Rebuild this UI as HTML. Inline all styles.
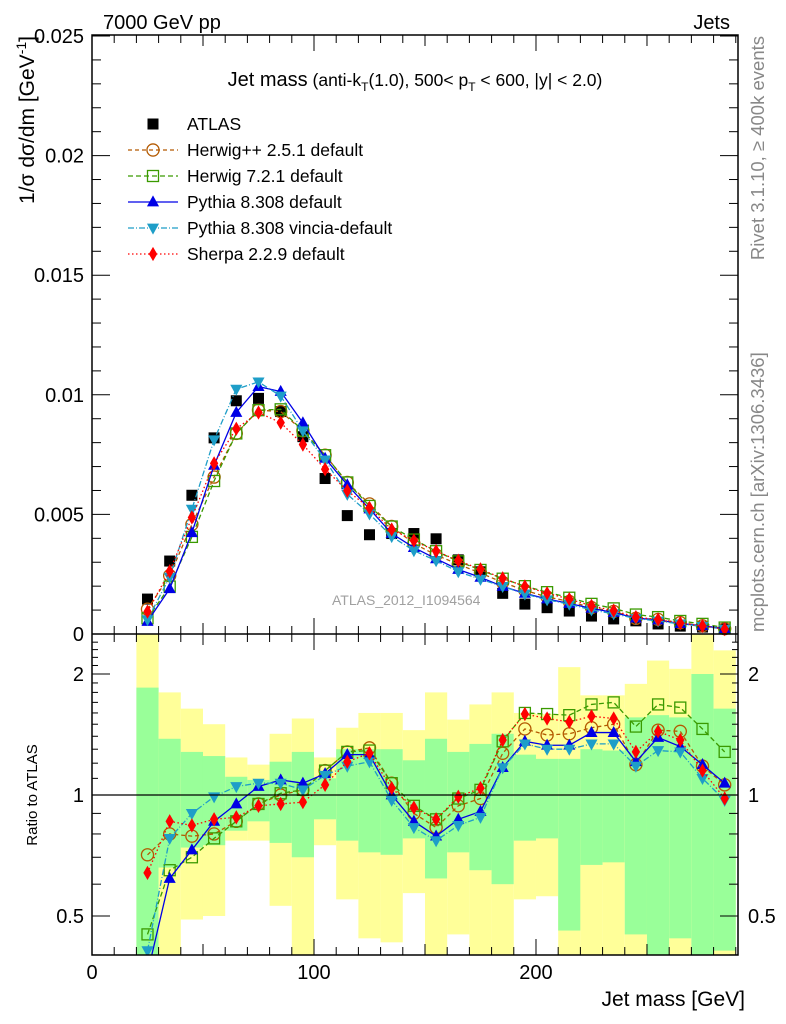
<!DOCTYPE html>
<html><head><meta charset="utf-8"><style>
html,body{margin:0;padding:0;background:#fff;}
svg{display:block;font-family:"Liberation Sans",sans-serif;}
</style></head><body>
<svg id="chart" width="786" height="1024" viewBox="0 0 786 1024" xmlns="http://www.w3.org/2000/svg">
<g id="ratioBands"></g>
<g id="mainMarks"></g>
<g id="ratioMarks"></g>
<g id="axes"></g>
<text x="103" y="29" font-size="20">7000 GeV pp</text>
<text x="730" y="29" font-size="20" text-anchor="end">Jets</text>
<text x="415" y="86" font-size="20" text-anchor="middle">Jet mass<tspan font-size="17.5"> (anti-k</tspan><tspan font-size="12" dy="5">T</tspan><tspan font-size="17.5" dy="-5">(1.0), 500&lt; p</tspan><tspan font-size="12" dy="5">T</tspan><tspan font-size="17.5" dy="-5"> &lt; 600, |y| &lt; 2.0)</tspan></text>
<text x="332" y="605" font-size="14" fill="#a0a0a0">ATLAS_2012_I1094564</text>
<text transform="translate(34,36) rotate(-90)" font-size="21" text-anchor="end">1/σ dσ/dm [GeV<tspan font-size="14" dy="-8">-1</tspan><tspan dy="8">]</tspan></text>
<text transform="translate(37,795) rotate(-90)" font-size="15" text-anchor="middle">Ratio to ATLAS</text>
<text x="745" y="1006" font-size="21" text-anchor="end">Jet mass [GeV]</text>
<text transform="translate(764,36) rotate(-90)" font-size="18.5" fill="#888" text-anchor="end">Rivet 3.1.10, ≥ 400k events</text>
<text transform="translate(764,632) rotate(-90)" font-size="18.5" fill="#888">mcplots.cern.ch [arXiv:1306.3436]</text>
<g id="legend"></g>
</svg>
<script>
const binCenters=[25,35,45,55,65,75,85,95,105,115,125,135,145,155,165,175,185,195,205,215,225,235,245,255,265,275,285];
const atlasValues=[1.46,3.05,5.8,8.2,9.75,9.85,9.3,8.25,6.5,4.95,4.15,4.2,4.2,3.98,3.1,2.6,1.7,1.25,1.1,0.96,0.75,0.63,0.55,0.42,0.33,0.29,0.21];
const herwigppRatio=[0.71,0.80,0.79,0.80,0.86,0.95,1.0,1.03,1.15,1.28,1.31,1.07,0.90,0.83,0.94,0.98,1.27,1.46,1.41,1.42,1.47,1.50,1.19,1.45,1.44,1.18,1.06];
const herwig7Ratio=[0.45,0.65,0.70,0.78,0.86,0.95,1.01,1.03,1.15,1.28,1.29,1.07,0.94,0.87,0.98,1.03,1.36,1.60,1.59,1.58,1.68,1.70,1.48,1.68,1.65,1.46,1.28];
const pythiaRatio=[0.36,0.62,0.73,0.86,0.95,1.05,1.09,1.07,1.13,1.26,1.26,1.0,0.86,0.79,0.87,0.91,1.17,1.36,1.33,1.33,1.43,1.43,1.21,1.39,1.32,1.19,1.07];
const vinciaRatio=[0.41,0.78,0.90,0.99,1.05,1.07,1.07,1.03,1.12,1.18,1.21,0.97,0.83,0.77,0.84,0.88,1.17,1.34,1.30,1.30,1.34,1.34,1.18,1.29,1.28,1.10,0.97];
const sherpaRatio=[0.64,0.86,0.84,0.87,0.88,0.94,0.95,0.96,1.06,1.21,1.27,1.04,0.93,0.87,0.99,1.04,1.37,1.59,1.55,1.52,1.57,1.55,1.28,1.44,1.37,1.15,0.98];
const yellowTop=[2.52,1.80,1.64,1.50,1.24,1.19,1.42,1.55,1.24,1.47,1.60,1.60,1.45,1.80,1.54,1.68,1.80,1.60,1.59,2.08,1.77,1.77,1.89,2.16,2.06,2.52,2.29];
const greenTop=[1.85,1.38,1.28,1.25,1.11,1.09,1.21,1.28,1.10,1.30,1.30,1.30,1.22,1.38,1.28,1.34,1.42,1.26,1.23,1.23,1.30,1.29,1.56,1.58,1.56,2.0,1.64];
const greenBottom=[0.39,0.66,0.74,0.75,0.815,0.86,0.76,0.70,0.87,0.77,0.72,0.71,0.78,0.62,0.72,0.65,0.60,0.77,0.78,0.46,0.67,0.68,0.45,0.39,0.44,0.39,0.41];
const yellowBottom=[0.39,0.39,0.49,0.50,0.77,0.77,0.53,0.40,0.75,0.55,0.44,0.43,0.57,0.39,0.45,0.39,0.39,0.55,0.56,0.39,0.39,0.39,0.39,0.39,0.39,0.39,0.39];
const seriesNames=["Herwig++ 2.5.1 default","Herwig 7.2.1 default","Pythia 8.308 default","Pythia 8.308 vincia-default","Sherpa 2.2.9 default"];
const mainTicks=[0,0.005,0.01,0.015,0.02,0.025];
const mainTickLabels=["0","0.005","0.01","0.015","0.02","0.025"];
const xTicks=[0,100,200];
const ratioTicks=[0.5,1,2];

const NS="http://www.w3.org/2000/svg";
const X0=92,X1=738,YT=35,YM=634,YB=955;
const xs=v=>X0+(v-0)*(X1-X0)/291;
const ym=v=>YM-v*1000*23.92;
const yr=r=>795-121*Math.log2(r);
const RMAX=2.515,RMIN=0.40;
const clampR=r=>Math.max(RMIN,Math.min(RMAX,r));
function mk(parent,tag,attrs){const e=document.createElementNS(NS,tag);for(const k in attrs)e.setAttribute(k,attrs[k]);parent.appendChild(e);return e;}

const bands=document.getElementById('ratioBands');
binCenters.forEach((c,i)=>{
  const x=xs(c-5),w=xs(c+5)-xs(c-5);
  const y1=yr(clampR(yellowTop[i])),y2=yr(clampR(yellowBottom[i]));
  const yb=mk(bands,'rect',{x:x,y:y1,width:w,height:y2-y1,fill:'#ffff99'});
  
  
  const g1=yr(clampR(greenTop[i])),g2=yr(clampR(greenBottom[i]));
  const gb=mk(bands,'rect',{x:x,y:g1,width:w,height:g2-g1,fill:'#99ff99'});
  
  
});

const styles=[
 {ratio:herwigppRatio,color:'#b35900',dash:'4,3',marker:'circle'},
 {ratio:herwig7Ratio,color:'#3a9a00',dash:'5,3',marker:'square'},
 {ratio:pythiaRatio,color:'#0000e6',dash:'',marker:'up'},
 {ratio:vinciaRatio,color:'#1e9ec8',dash:'6,2,1,2',marker:'down'},
 {ratio:sherpaRatio,color:'#ff0000',dash:'1.5,2.5',marker:'diamond'}
];
function marker(g,type,x,y,color,s){
  let e;
  if(type==='circle')e=mk(g,'circle',{cx:x,cy:y,r:s*0.55,fill:'none',stroke:color,'stroke-width':1.3});
  else if(type==='square')e=mk(g,'rect',{x:x-s*0.5,y:y-s*0.5,width:s,height:s,fill:'none',stroke:color,'stroke-width':1.3});
  else if(type==='fsquare')e=mk(g,'rect',{x:x-s*0.5,y:y-s*0.5,width:s,height:s,fill:color});
  else if(type==='up')e=mk(g,'polygon',{points:`${x},${y-s*0.6} ${x-s*0.55},${y+s*0.4} ${x+s*0.55},${y+s*0.4}`,fill:color});
  else if(type==='down')e=mk(g,'polygon',{points:`${x},${y+s*0.6} ${x-s*0.55},${y-s*0.4} ${x+s*0.55},${y-s*0.4}`,fill:color});
  else e=mk(g,'polygon',{points:`${x},${y-s*0.65} ${x-s*0.38},${y} ${x},${y+s*0.65} ${x+s*0.38},${y}`,fill:color});
  return e;
}
const mainG=document.getElementById('mainMarks');
const ratioG=document.getElementById('ratioMarks');
const defs=mk(document.getElementById('chart'),'defs',{});
const cp=mk(defs,'clipPath',{id:'rclip'});mk(cp,'rect',{x:X0,y:YM,width:X1-X0,height:YB-YM});
ratioG.setAttribute('clip-path','url(#rclip)');

binCenters.forEach((c,i)=>{
  const m=marker(mainG,'fsquare',xs(c),ym(atlasValues[i]/1000),'#000',11);
  
  
});
styles.forEach((s,k)=>{
  const pm=binCenters.map((c,i)=>xs(c)+','+ym(atlasValues[i]*s.ratio[i]/1000)).join(' ');
  const l=mk(mainG,'polyline',{points:pm,fill:'none',stroke:s.color,'stroke-width':1.3,'stroke-dasharray':s.dash});
  
  
  const pr=binCenters.map((c,i)=>xs(c)+','+yr(s.ratio[i])).join(' ');
  const lr=mk(ratioG,'polyline',{points:pr,fill:'none',stroke:s.color,'stroke-width':1.3,'stroke-dasharray':s.dash});
  
  
  binCenters.forEach((c,i)=>{
    const a=marker(mainG,s.marker,xs(c),ym(atlasValues[i]*s.ratio[i]/1000),s.color,11);
    
    
    const b=marker(ratioG,s.marker,xs(c),yr(s.ratio[i]),s.color,11);
    
    
  });
});

const ax=document.getElementById('axes');
mk(ax,'rect',{x:X0,y:YT,width:X1-X0,height:YB-YT,fill:'none',stroke:'#000','stroke-width':1.5});
mk(ax,'line',{x1:X0,y1:YM,x2:X1,y2:YM,stroke:'#000','stroke-width':1.5});
mk(ax,'line',{x1:X0,y1:yr(1),x2:X1,y2:yr(1),stroke:'#000','stroke-width':1.2});
for(let v=0;v<=291;v+=10){
  const big=v%100===0,len=big?16:(v%50===0?11:8);
  const x=xs(v);
  mk(ax,'line',{x1:x,y1:YB,x2:x,y2:YB-len,stroke:'#000'});
  mk(ax,'line',{x1:x,y1:YM,x2:x,y2:YM-len,stroke:'#000'});
  mk(ax,'line',{x1:x,y1:YM,x2:x,y2:YM+len,stroke:'#000'});
  mk(ax,'line',{x1:x,y1:YT,x2:x,y2:YT+len,stroke:'#000'});
}
xTicks.forEach(v=>{
  const t=mk(ax,'text',{x:xs(v),y:979,'font-size':20,'text-anchor':'middle'});t.textContent=String(v);
  
  
});
for(let v=0;v<=0.0251;v+=0.001){
  const big=Math.round(v*1000)%5===0,len=big?18:9,y=ym(v);
  mk(ax,'line',{x1:X0,y1:y,x2:X0+len,y2:y,stroke:'#000'});
  mk(ax,'line',{x1:X1,y1:y,x2:X1-len,y2:y,stroke:'#000'});
}
mainTicks.forEach((v,i)=>{
  const t=mk(ax,'text',{x:84,y:ym(v)+7,'font-size':20,'text-anchor':'end'});t.textContent=mainTickLabels[i];
  
  
});
[0.4,0.5,0.6,0.7,0.8,0.9,1,2].forEach(r=>{
  const big=(r===0.5||r===1||r===2),len=big?18:9,y=yr(r);
  mk(ax,'line',{x1:X0,y1:y,x2:X0+len,y2:y,stroke:'#000'});
  mk(ax,'line',{x1:X1,y1:y,x2:X1-len,y2:y,stroke:'#000'});
});
for(let r=1.1;r<2.5;r+=0.1){const y=yr(r);mk(ax,'line',{x1:X0,y1:y,x2:X0+6,y2:y,stroke:'#000'});mk(ax,'line',{x1:X1,y1:y,x2:X1-6,y2:y,stroke:'#000'});}
ratioTicks.forEach(r=>{
  const t=mk(ax,'text',{x:84,y:yr(r)+7,'font-size':20,'text-anchor':'end'});t.textContent=String(r);
  
  
  const t2=mk(ax,'text',{x:748,y:yr(r)+7,'font-size':20});t2.textContent=String(r);
  
  
});

const lg=document.getElementById('legend');
const e0=marker(lg,'fsquare',153,124,'#000',11);


const t0=mk(lg,'text',{x:187,y:130,'font-size':17.5});t0.textContent='ATLAS';


styles.forEach((s,k)=>{
  const y=150+26*k;
  mk(lg,'line',{x1:128,y1:y,x2:178,y2:y,stroke:s.color,'stroke-width':1.3,'stroke-dasharray':s.dash});
  const m=marker(lg,s.marker,153,y,s.color,11);
  
  
  const t=mk(lg,'text',{x:187,y:y+6,'font-size':17.5});t.textContent=seriesNames[k];
  
  
});
</script>
</body></html>
